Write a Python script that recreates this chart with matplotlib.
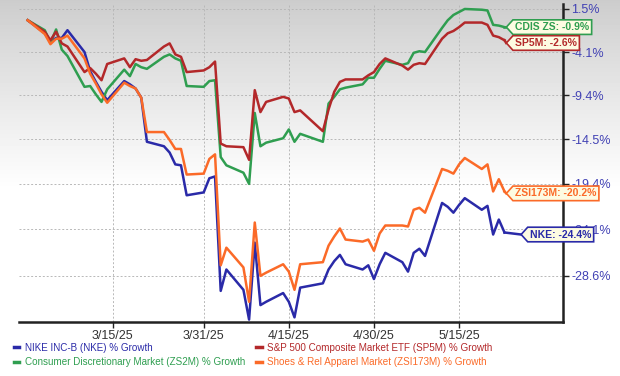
import numpy as np
import pandas as pd
import matplotlib
matplotlib.use('Agg')
import matplotlib.pyplot as plt
from matplotlib.path import Path
from matplotlib.lines import Line2D

plt.rcParams['font.family'] = ['Liberation Sans', 'DejaVu Sans']

# trading days shown on the chart
dates = pd.bdate_range('2025-02-28', '2025-05-23', freq='C', holidays=['2025-04-18'])

# % growth since 2/28/25
nke = [0.0,
       -1.7, -2.8, -2.3, -2.3, -1.3,
       -4.1, -6.5, -7.8, -9.0, -10.0,
       -7.7, -8.1, -8.6, -9.7, -14.8,
       -15.3, -16.0, -17.3, -17.4, -20.6,
       -20.3, -18.8, -18.6, -30.0, -28.0,
       -29.9, -32.6, -25.4, -31.3, -31.0,
       -30.2, -31.0, -32.4, -29.7,
       -29.3, -28.0, -27.2, -26.6, -27.5,
       -28.0, -27.6, -28.9, -27.5, -26.4,
       -27.3, -28.2, -26.4, -26.0, -26.7,
       -21.4, -21.8, -22.4, -21.6, -20.9,
       -22.1, -21.7, -24.6, -23.1, -24.4]
sp5m = [0.0,
        -1.5, -2.6, -1.5, -3.0, -3.4,
        -6.6, -6.1, -6.8, -7.6, -5.6,
        -4.9, -6.0, -5.0, -5.2, -5.1,
        -3.4, -3.0, -4.4, -4.7, -6.6,
        -6.4, -6.0, -5.3, -15.0, -15.3,
        -15.4, -16.8, -8.8, -11.4, -10.2,
        -9.6, -9.8, -11.4, -11.2,
        -13.6, -11.1, -9.0, -7.8, -7.5,
        -7.5, -7.0, -6.6, -5.6, -4.9,
        -5.8, -6.3, -5.7, -5.5, -5.6,
        -2.4, -1.7, -1.4, -0.9, -0.3,
        -0.3, -0.6, -2.0, -2.2, -2.6]
zs2m = [0.0,
        -1.3, -2.9, -1.2, -3.8, -4.6,
        -8.4, -8.3, -9.3, -10.2, -8.7,
        -6.3, -7.1, -5.6, -6.0, -6.2,
        -4.7, -4.4, -4.9, -5.2, -8.3,
        -8.4, -7.7, -7.6, -16.5, -17.4,
        -18.2, -19.4, -11.5, -15.3, -14.9,
        -14.4, -13.4, -14.8, -13.9,
        -14.8, -10.4, -9.6, -8.7, -8.5,
        -8.1, -7.3, -7.3, -6.2, -5.2,
        -5.7, -5.5, -4.2, -4.0, -4.1,
        -1.0, 0.0, 0.7, 1.1, 1.5,
        1.4, 1.3, -0.6, -0.7, -0.9]
zsi173m = [0.0,
           -1.8, -3.1, -2.4, -2.4, -2.0,
           -4.9, -6.8, -8.0, -9.3, -10.3,
           -7.9, -8.3, -8.6, -9.7, -13.7,
           -13.7, -14.6, -15.6, -15.6, -18.4,
           -18.3, -16.7, -16.2, -27.6, -25.9,
           -27.8, -31.0, -23.4, -28.6, -28.3,
           -27.5, -28.2, -29.9, -27.5,
           -27.3, -25.7, -24.8, -24.0, -25.1,
           -25.3, -25.1, -26.2, -24.5, -23.7,
           -23.7, -23.8, -22.1, -21.9, -22.4,
           -17.8, -18.0, -18.3, -17.3, -16.6,
           -17.8, -17.3, -20.2, -18.9, -20.2]

names = ['NIKE INC-B (NKE) % Growth',
         'Consumer Discretionary Market (ZS2M) % Growth',
         'S&P 500 Composite Market ETF (SP5M) % Growth',
         'Shoes & Rel Apparel Market (ZSI173M) % Growth']
tags = ['NKE: -24.4%', 'CDIS ZS: -0.9%', 'SP5M: -2.6%', 'ZSI173M: -20.2%']
colors = ['#2a2aa8', '#2f9e50', '#b3282a', '#fb6a28']
series = [nke, zs2m, sp5m, zsi173m]
tag_y = [-24.6, -0.9, -2.95, -20.4]
tag_shift = [2.9, 0.3, 0.3, 0.3]

yticks = [1.5, -4.1, -9.4, -14.5, -19.4, -24.1, -28.6]
xticks = ['2025-03-15', '2025-03-31', '2025-04-15', '2025-04-30', '2025-05-15']
xlabels = ['3/15/25', '3/31/25', '4/15/25', '4/30/25', '5/15/25']


def fwd(v):
    return np.log1p(np.asarray(v, dtype=float) / 100.0)


def inv(v):
    return 100.0 * np.expm1(np.asarray(v, dtype=float))


def tag_shape(x0, y0, width, height, mutation_size):
    pad = 0.22 * mutation_size
    x0, y0 = x0 - pad, y0 - pad
    w, h = width + 2 * pad, height + 2 * pad
    verts = [(x0, y0), (x0 + w, y0), (x0 + w, y0 + h), (x0, y0 + h),
             (x0 - 0.45 * h, y0 + h / 2), (x0, y0)]
    return Path(verts, closed=True)


fig = plt.figure(figsize=(6.2, 3.76), dpi=100)

# grey-to-white background
bg = fig.add_axes([0, 0, 1, 1], zorder=-10)
rows = np.arange(376)
shade = 0.80 + 0.20 * np.clip(rows / 190.0, 0, 1) ** 0.9
bg.imshow(shade[:, None] * np.ones((1, 4)), cmap='gray', vmin=0, vmax=1,
          aspect='auto', extent=[0, 1, 0, 1])
bg.axis('off')

ax = fig.add_axes([0.031, 0.144, 0.877, 0.846])
ax.set_facecolor('none')
ax.set_yscale('function', functions=(fwd, inv))

for vals, c in zip(series, colors):
    ax.plot(dates, vals, color=c, lw=1.8, solid_joinstyle='round')

for vals, c, t, ty, sh in zip(series, colors, tags, tag_y, tag_shift):
    tip = dates[-1] + pd.Timedelta(days=sh)
    ax.plot([dates[-1], tip], [vals[-1], ty], color=c, lw=1.8)
    ax.annotate(t, xy=(tip, ty), xytext=(6.5, 0), textcoords='offset points',
                ha='left', va='center', fontsize=7.5, fontweight='bold', color=c,
                bbox=dict(boxstyle=tag_shape, fc='#fdfbe2', ec=c, lw=1.2),
                zorder=5, annotation_clip=False)

mid = pd.Timestamp('2025-03-15')
ax.set_xlim(mid - pd.Timedelta(days=16.5), mid + pd.Timedelta(days=79.3))
ax.set_ylim(-32.8, 2.2)

ax.set_xticks(pd.to_datetime(xticks))
ax.set_xticklabels(xlabels)
ax.set_yticks(yticks)
ax.set_yticklabels([f'{v}%' for v in yticks])
ax.minorticks_off()
ax.yaxis.tick_right()

ax.grid(True, color='#b8b8b8', linestyle=(0, (2, 2)), lw=0.7)
for s in ['left', 'top']:
    ax.spines[s].set_visible(False)
for s in ['right', 'bottom']:
    ax.spines[s].set_linewidth(1.8)
    ax.spines[s].set_color('#222222')

ax.tick_params(axis='y', length=4, width=1, pad=2, labelsize=9,
               labelcolor='#4141b4', color='#222222')
ax.tick_params(axis='x', length=4, width=1, pad=2, labelsize=9,
               labelcolor='#333333', color='#222222')

handles = [Line2D([0], [0], color=c, lw=2.5) for c in colors]
fig.legend(handles, names, loc='upper left', bbox_to_anchor=(0.022, 0.088),
           ncol=2, frameon=False, fontsize=7.1, handlelength=0.55,
           handletextpad=0.6, columnspacing=1.1, labelcolor='linecolor',
           borderaxespad=0, borderpad=0, labelspacing=0.45)

fig.savefig('out.png', dpi=100)
